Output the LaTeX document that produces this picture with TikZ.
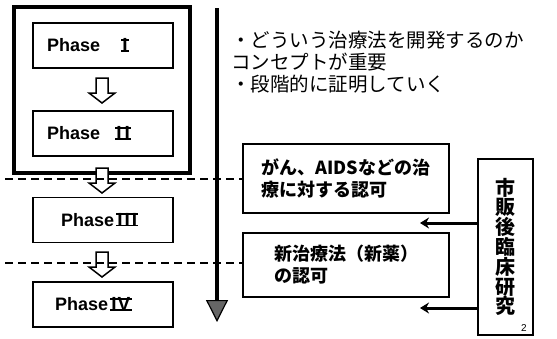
\documentclass[tikz,border=0pt]{standalone}
\usepackage{fontspec}
\setmainfont{Liberation Sans}
\newfontfamily\jp{Noto Sans CJK JP}
\usetikzlibrary{arrows.meta}
\newcommand\romnum[1]{\setbox0=\hbox{\fontsize{19}{20}\selectfont\bfseries\kern1.2pt #1\kern1.2pt}\leavevmode
  \rlap{\vrule height\ht0 depth-\dimexpr\ht0-1.8pt\relax width\wd0}%
  \rlap{\vrule height 1.8pt depth 0pt width\wd0}\box0}
\begin{document}
\begin{tikzpicture}[x=1pt,y=-1pt,
  phasebox/.style={draw, line width=1.8pt, minimum width=140pt, minimum height=45pt, inner sep=0pt},
  phasetext/.style={font=\bfseries\fontsize{18}{20}\selectfont, inner sep=0pt, anchor=west},
  outerbox/.style={draw, line width=3.8pt, minimum width=176pt, minimum height=166pt, inner sep=0pt},
  rbox/.style={draw, line width=1.8pt, minimum width=206pt, inner sep=0pt, align=left,
    font=\jp\bfseries\fontsize{18}{22}\selectfont},
  tallbox/.style={draw, line width=1.8pt, minimum width=55pt, minimum height=176pt, inner sep=0pt, align=center,
    font=\jp\bfseries\fontsize{20}{19.8}\selectfont},
  divider/.style={line width=2pt, dash pattern=on 8pt off 5pt},
  conn/.style={line width=3pt, -{Stealth[length=9pt,width=11pt]}},
  hollow/.pic={\draw[line width=1.5pt, fill=white, line join=miter]
     (-6,0) -- (-6,15) -- (-13,15) -- (0,25) -- (13,15) -- (6,15) -- (6,0) -- cycle;}
]
\useasboundingbox (0,0) rectangle (557,338);

% outer frame of phase I and II
\node[outerbox] (frame) at (102,90) {};

% phase boxes
\node[phasebox] (p1) at (103,45.5) {};
\node[phasebox] (p2) at (103,133.5) {};
\node[phasebox] (p3) at (103,220) {};
\node[phasebox] (p4) at (103,304.5) {};
\node[phasetext] (p1t) at (47,45.5) {Phase\hspace{21pt}\romnum{I}};
\node[phasetext] (p2t) at (47,133.5) {Phase\hspace{15pt}\romnum{I\kern3pt I}};
\node[phasetext] (p3t) at (61,220) {Phase\hspace{2pt}\romnum{I\kern2pt I\kern2pt I}};
\node[phasetext] (p4t) at (55,304.5) {Phase\hspace{2pt}\romnum{I\kern1pt V}};

% hollow arrows between phases
\pic at (102,78) {hollow};
\pic at (102,168) {hollow};
\pic at (102,252) {hollow};

% right boxes
\node[rbox, minimum height=69pt] (rb1) at (346,178.5) {がん、AIDSなどの治\\療に対する認可};
\node[rbox, minimum height=64pt] (rb2) at (346,265) {新治療法（新薬）\\の認可};
\node[tallbox] (tb) at (505.5,247) {市\\販\\後\\臨\\床\\研\\究};
\node[font=\fontsize{10}{10}\selectfont, inner sep=0pt] (pg) at (524,328) {2};

% dashed dividers
\coordinate (d1) at (5,178.5);
\coordinate (d2) at (5,262.5);
\draw[divider] (d1) -- (d1 -| rb1.west);
\draw[divider] (d2) -- (d2 -| rb2.west);

% time arrow
\coordinate (vtop) at (217,8);
\coordinate (vbot) at (217,322);
\draw[line width=3.8pt, -{Triangle[length=22pt,width=22pt,fill=black!60,line width=1.2pt]}] (vtop) -- (vbot);

% top explanation text
\node[anchor=west, align=left, inner sep=0pt, font=\jp\fontsize{19.5}{22}\selectfont] (expl) at (231,62)
  {・どういう治療法を開発するのか\\コンセプトが重要\\・段階的に証明していく};

% post-marketing arrows
\coordinate (a1) at (420,223);
\coordinate (a2) at (420,308);
\draw[conn] (tb.west |- a1) -- (a1);
\draw[conn] (tb.west |- a2) -- (a2);
\end{tikzpicture}
\end{document}
